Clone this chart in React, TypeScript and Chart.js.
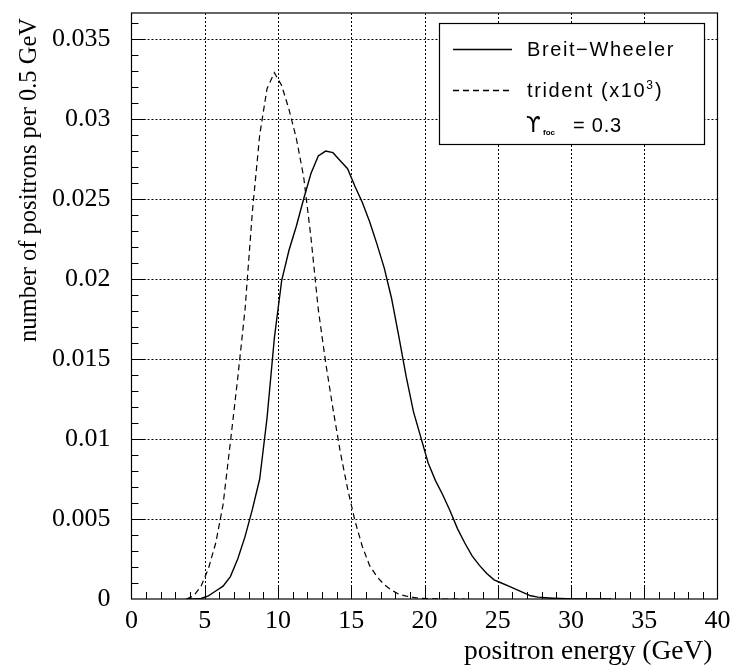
import React, { useEffect, useRef } from "react";
import { Chart, registerables } from "chart.js";

Chart.register(...registerables);

// Positron energy (GeV), bin centres
const energies = [
  3.75, 4.25, 4.75, 5.25, 5.75, 6.25, 6.75, 7.25, 7.75, 8.25,
  8.75, 9.25, 9.75, 10.25, 10.75, 11.25, 11.75, 12.25, 12.75, 13.25,
  13.75, 14.25, 14.75, 15.25, 15.75, 16.25, 16.75, 17.25, 17.75, 18.25,
  18.75, 19.25, 19.75, 20.25, 20.75, 21.25, 21.75, 22.25, 22.75, 23.25,
  23.75, 24.25, 24.75, 25.25, 25.75, 26.25, 26.75, 27.25, 27.75, 28.25,
  28.75, 29.25, 29.75, 30.25, 30.75, 31.25, 31.75, 32.25, 32.75,
];

// Breit-Wheeler positrons per 0.5 GeV
const breitWheeler = [
  0, 0.00001, 0.00003, 0.0002, 0.0005, 0.0008, 0.0014, 0.0025, 0.0039, 0.0056,
  0.0075, 0.0113, 0.0163, 0.0199, 0.0218, 0.0233, 0.025, 0.0266, 0.0277, 0.028,
  0.0279, 0.0274, 0.0269, 0.0258, 0.0248, 0.0236, 0.0222, 0.0207, 0.0188, 0.0164,
  0.0139, 0.0117, 0.0101, 0.0085, 0.0074, 0.0065, 0.0055, 0.0044, 0.0035, 0.0027,
  0.0021, 0.0016, 0.0012, 0.001, 0.0008, 0.0006, 0.0004, 0.0002, 0.00012, 0.00008,
  0.00005, 0.00003, 0.00002, 0.00001, 0, 0, 0, 0, 0,
];

// trident positrons per 0.5 GeV (x10^3)
const trident = [
  0, 0.0002, 0.0008, 0.0019, 0.0035, 0.0059, 0.0098, 0.0138, 0.0181, 0.0242,
  0.029, 0.0319, 0.0329, 0.0321, 0.0306, 0.0288, 0.0264, 0.0226, 0.0181, 0.0148,
  0.0119, 0.0092, 0.0069, 0.0049, 0.0033, 0.0021, 0.0014, 0.0009, 0.00055, 0.0003,
  0.00018, 0.0001, 0.00004, 0.00002, 0.00001, 0, 0, 0, 0, null,
  null, null, null, null, null, null, null, null, null, null,
  null, null, null, null, null, null, null, null, null,
];

const xMajorTicks = [0, 5, 10, 15, 20, 25, 30, 35, 40];
const yMajorTicks = [0, 0.005, 0.01, 0.015, 0.02, 0.025, 0.03, 0.035];
const xTitle = "positron energy (GeV)";
const yTitle = "number of positrons per 0.5 GeV";
const legendLabels = ["Breit\u2212Wheeler", "trident (x10", "3", ")"];
const legendParam = ["\u03D2", "foc", "= 0.3"];

const X_MIN = 0;
const X_MAX = 40;
const Y_MIN = 0;
const Y_MAX = 0.03663;

const SERIF = "'Liberation Serif', 'Times New Roman', serif";
const SANS = "'Liberation Sans', Arial, sans-serif";

const framePlugin = {
  id: "framePlugin",
  beforeDatasetsDraw(chart: any) {
    const { ctx, chartArea: a, scales } = chart;
    const x = scales.x;
    const y = scales.y;
    ctx.save();
    ctx.strokeStyle = "#000";
    ctx.lineWidth = 1;
    ctx.setLineDash([2, 2]);
    for (const v of xMajorTicks) {
      if (v <= X_MIN || v >= X_MAX) continue;
      const px = Math.round(x.getPixelForValue(v)) + 0.5;
      ctx.beginPath();
      ctx.moveTo(px, a.top);
      ctx.lineTo(px, a.bottom);
      ctx.stroke();
    }
    for (const v of yMajorTicks) {
      if (v <= Y_MIN || v >= Y_MAX) continue;
      const py = Math.round(y.getPixelForValue(v)) + 0.5;
      ctx.beginPath();
      ctx.moveTo(a.left, py);
      ctx.lineTo(a.right, py);
      ctx.stroke();
    }
    ctx.restore();
  },
  afterDatasetsDraw(chart: any) {
    const { ctx, chartArea: a, scales } = chart;
    const x = scales.x;
    const y = scales.y;
    ctx.save();
    ctx.setLineDash([]);
    ctx.strokeStyle = "#000";
    ctx.lineWidth = 1.2;
    // frame
    ctx.strokeRect(a.left, a.top, a.right - a.left, a.bottom - a.top);

    // inward ticks on x axis: minor every 1 GeV, major every 5 GeV
    ctx.lineWidth = 1;
    for (let v = X_MIN + 1; v < X_MAX; v += 1) {
      const px = Math.round(x.getPixelForValue(v)) + 0.5;
      const len = v % 5 === 0 ? 14 : 7;
      ctx.beginPath();
      ctx.moveTo(px, a.bottom);
      ctx.lineTo(px, a.bottom - len);
      ctx.stroke();
    }
    // inward ticks on y axis: minor every 0.001, major every 0.005
    for (let k = 1; k * 0.001 < Y_MAX; k++) {
      const v = k * 0.001;
      const py = Math.round(y.getPixelForValue(v)) + 0.5;
      const len = k % 5 === 0 ? 14 : 7;
      ctx.beginPath();
      ctx.moveTo(a.left, py);
      ctx.lineTo(a.left + len, py);
      ctx.stroke();
    }

    // axis titles
    ctx.fillStyle = "#000";
    ctx.font = `27.5px ${SERIF}`;
    ctx.textAlign = "right";
    ctx.textBaseline = "alphabetic";
    ctx.fillText(xTitle, a.right - 5, 659);

    ctx.save();
    ctx.translate(36, a.top + 5);
    ctx.rotate(-Math.PI / 2);
    ctx.font = `24.5px ${SERIF}`;
    ctx.textAlign = "right";
    ctx.fillText(yTitle, 0, 0);
    ctx.restore();

    // legend box
    const bx = 439;
    const by = 23;
    const bw = 265;
    const bh = 121;
    ctx.fillStyle = "#fff";
    ctx.fillRect(bx, by, bw, bh);
    ctx.strokeStyle = "#000";
    ctx.lineWidth = 1.2;
    ctx.strokeRect(bx + 0.5, by + 0.5, bw, bh);

    ctx.lineWidth = 1.3;
    ctx.beginPath();
    ctx.moveTo(453, 49.5);
    ctx.lineTo(512, 49.5);
    ctx.stroke();
    ctx.setLineDash([6, 4]);
    ctx.beginPath();
    ctx.moveTo(453, 90.5);
    ctx.lineTo(512, 90.5);
    ctx.stroke();
    ctx.setLineDash([]);

    ctx.fillStyle = "#000";
    ctx.textAlign = "left";
    ctx.textBaseline = "alphabetic";
    ctx.font = `20px ${SANS}`;
    (ctx as any).letterSpacing = "1.6px";
    ctx.fillText(legendLabels[0], 527, 56);
    ctx.fillText(legendLabels[1], 527, 97);
    const w = ctx.measureText(legendLabels[1]).width;
    ctx.font = `12px ${SANS}`;
    (ctx as any).letterSpacing = "0px";
    ctx.fillText(legendLabels[2], 527 + w, 89);
    const w2 = ctx.measureText(legendLabels[2]).width;
    ctx.font = `20px ${SANS}`;
    (ctx as any).letterSpacing = "1.6px";
    ctx.fillText(legendLabels[3], 527 + w + w2 + 2, 97);

    // parameter line
    ctx.font = `21px 'DejaVu Sans', ${SANS}`;
    (ctx as any).letterSpacing = "0px";
    ctx.fillText(legendParam[0], 526, 132);
    ctx.font = `bold 8px ${SANS}`;
    ctx.fillText(legendParam[1], 543, 135);
    ctx.font = `20px ${SANS}`;
    (ctx as any).letterSpacing = "0.8px";
    ctx.fillText(legendParam[2], 573, 132);
    (ctx as any).letterSpacing = "0px";

    ctx.restore();
  },
};

export default function App() {
  const canvasRef = useRef<HTMLCanvasElement | null>(null);

  useEffect(() => {
    const canvas = canvasRef.current;
    if (!canvas) return;
    const bwData = energies.map((e, i) => ({ x: e, y: breitWheeler[i] }));
    const trData = energies.map((e, i) => ({ x: e, y: trident[i] }));
    const zeroPad = (s: any) => {
      s.paddingTop = 0;
      s.paddingBottom = 0;
      s.paddingLeft = 0;
      s.paddingRight = 0;
    };
    const chart = new Chart(canvas, {
      type: "line",
      data: {
        datasets: [
          {
            label: "Breit-Wheeler",
            data: bwData,
            borderColor: "#000",
            borderWidth: 1.4,
            pointRadius: 0,
            tension: 0,
            fill: false,
            spanGaps: false,
          },
          {
            label: "trident (x10^3)",
            data: trData as any,
            borderColor: "#000",
            borderWidth: 1.2,
            borderDash: [6, 4],
            pointRadius: 0,
            tension: 0,
            fill: false,
            spanGaps: false,
          },
        ],
      },
      options: {
        animation: false,
        responsive: false,
        devicePixelRatio: 1,
        layout: { padding: { top: 13, right: 14.5, left: 0, bottom: 0 } },
        plugins: {
          legend: { display: false },
          tooltip: { enabled: false },
          title: { display: false },
        },
        scales: {
          x: {
            type: "linear",
            min: X_MIN,
            max: X_MAX,
            grid: { display: false, drawTicks: false },
            border: { display: false },
            afterFit: (s: any) => {
              s.height = 68;
              zeroPad(s);
            },
            ticks: {
              stepSize: 5,
              includeBounds: false,
              padding: 7,
              color: "#000",
              maxRotation: 0,
              autoSkip: false,
              font: { family: SERIF, size: 26 },
            },
          },
          y: {
            type: "linear",
            min: Y_MIN,
            max: Y_MAX,
            grid: { display: false, drawTicks: false },
            border: { display: false },
            afterFit: (s: any) => {
              s.width = 131.5;
              zeroPad(s);
            },
            ticks: {
              stepSize: 0.005,
              includeBounds: false,
              padding: 21,
              color: "#000",
              autoSkip: false,
              font: { family: SERIF, size: 26 },
              callback: (v: any) => {
                const n = Number(v);
                if (n === 0) return "0";
                return String(Math.round(n * 1000) / 1000);
              },
            },
          },
        },
      },
      plugins: [framePlugin],
    });
    return () => chart.destroy();
  }, []);

  return (
    <div style={{ position: "absolute", left: 0, top: 0, width: 732, height: 667, background: "#fff" }}>
      <canvas ref={canvasRef} width={732} height={667} style={{ display: "block" }} />
    </div>
  );
}
